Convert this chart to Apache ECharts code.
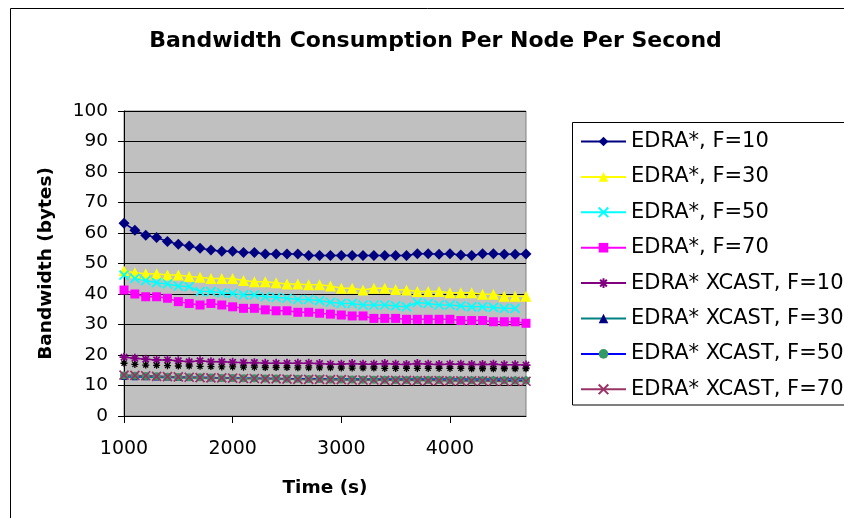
<!DOCTYPE html>
<html>
<head>
<meta charset="utf-8">
<script src="https://cdn.jsdelivr.net/npm/echarts@6/dist/echarts.min.js"></script>
<style>
  html, body { margin: 0; padding: 0; background: #fff; }
  #chart { width: 844px; height: 518px; }
</style>
</head>
<body>
<div id="chart"></div>
<script>
var times = [1000,1100,1200,1300,1400,1500,1600,1700,1800,1900,
             2000,2100,2200,2300,2400,2500,2600,2700,2800,2900,
             3000,3100,3200,3300,3400,3500,3600,3700,3800,3900,
             4000,4100,4200,4300,4400,4500,4600,4700];
var xTickLabels = [1000, 2000, 3000, 4000];
var yTicks = [0,10,20,30,40,50,60,70,80,90,100];

var edraF10 = [63.2,60.9,59.3,58.5,57.2,56.3,55.7,55.0,54.4,54.0,
               54.0,53.6,53.6,53.1,53.1,53.1,53.1,52.6,52.6,52.6,
               52.6,52.6,52.6,52.6,52.6,52.6,52.6,53.2,53.2,53.0,
               53.2,52.8,52.6,53.2,53.2,53.0,53.0,53.1];
var edraF30 = [47.6,47.0,46.6,46.6,46.2,46.2,45.7,45.5,45.1,45.1,
               45.1,44.4,44.0,44.0,43.7,43.3,43.3,43.0,43.0,42.6,
               41.9,41.9,41.3,41.9,41.9,41.5,41.3,40.8,40.8,40.8,
               40.4,40.4,40.4,39.9,39.9,39.3,39.3,39.3];
var edraF50 = [46.2,45.1,44.4,43.7,43.3,42.6,42.4,40.8,40.8,40.4,
               40.2,39.7,39.7,39.1,38.9,38.6,38.2,38.2,37.8,37.3,
               36.9,36.9,36.4,36.4,36.4,36.1,35.8,37.2,36.9,36.4,
               36.4,36.1,35.8,35.8,35.6,35.3,35.3,null];
var edraF70 = [41.3,40.0,39.1,39.1,38.6,37.5,36.9,36.4,36.9,36.4,
               35.8,35.3,35.3,34.8,34.5,34.5,34.0,34.0,33.7,33.4,
               33.1,32.8,32.8,32.0,32.0,32.0,31.7,31.7,31.7,31.7,
               31.7,31.3,31.3,31.3,30.9,30.9,30.9,30.4];
var xcastF10 = [19.3,18.9,18.6,18.4,18.4,18.1,17.8,18.1,17.8,17.8,
                17.6,17.5,17.5,17.3,17.3,17.3,17.3,17.3,17.2,17.0,
                17.0,17.2,17.0,17.0,17.2,17.0,16.9,17.2,17.0,16.9,
                17.0,17.0,16.9,16.9,17.0,16.8,16.8,16.7];
var xcastF30 = [12.8,12.7,12.7,12.6,12.6,12.5,12.5,12.5,12.4,12.4,
                12.4,12.3,12.3,12.3,12.3,12.2,12.2,12.2,12.2,12.2,
                12.2,12.2,12.2,12.2,12.3,12.3,12.3,12.3,12.3,12.3,
                12.3,12.2,12.2,12.2,12.2,12.2,12.2,12.2];
var xcastF50 = [13.3,13.2,13.1,13.0,12.9,12.8,12.7,12.7,12.6,12.5,
                12.5,12.4,12.4,12.3,12.3,12.2,12.2,12.1,12.1,12.0,
                12.0,12.0,11.9,11.9,11.9,11.8,11.8,11.8,11.8,11.8,
                11.7,11.7,11.7,11.7,11.7,11.7,11.6,11.6];
var xcastF70 = [13.4,13.3,13.2,13.0,12.9,12.8,12.7,12.6,12.5,12.5,
                12.4,12.3,12.3,12.2,12.2,12.1,12.0,12.0,12.0,11.9,
                11.9,11.8,11.8,11.8,11.7,11.7,11.7,11.6,11.6,11.6,
                11.5,11.5,11.5,11.5,11.4,11.4,11.4,11.4];
// unlabeled dark marks visible just below the XCAST F=10 series
var darkMarks = [17.3,16.9,16.7,16.6,16.5,16.4,16.4,16.3,16.2,16.1,
                 16.1,16.0,16.0,15.9,15.9,15.9,15.8,15.8,15.8,15.8,
                 15.7,15.7,15.7,15.7,15.6,15.6,15.6,15.6,15.6,15.6,
                 15.6,15.6,15.5,15.5,15.5,15.5,15.5,15.5];

var seriesNames = ['EDRA*, F=10','EDRA*, F=30','EDRA*, F=50','EDRA*, F=70',
                   'EDRA* XCAST, F=10','EDRA* XCAST, F=30','EDRA* XCAST, F=50','EDRA* XCAST, F=70'];

var FONT = 'DejaVu Sans';
var X_PATH = 'path://M0,0 L10,10 M10,0 L0,10';
var STAR_PATH = 'path://M0,5 L10,5 M5,0 L5,10 M1.5,1.5 L8.5,8.5 M8.5,1.5 L1.5,8.5';

function mk(name, data, lineColor, symbol, size, markColor, stroke) {
  var s = {
    name: name, type: 'line', data: data,
    symbol: symbol, symbolSize: size,
    showSymbol: true, showAllSymbol: true,
    lineStyle: { color: lineColor, width: 1.5 },
    itemStyle: { color: markColor },
    emphasis: { disabled: true },
    connectNulls: false
  };
  if (stroke) {
    s.itemStyle = { color: markColor, borderColor: markColor, borderWidth: 1.7 };
  }
  return s;
}

var series = [
  mk(seriesNames[0], edraF10, '#000080', 'diamond', 11, '#000080'),
  mk(seriesNames[1], edraF30, '#FFFF00', 'triangle', 11, '#FFFF00'),
  mk(seriesNames[2], edraF50, '#00FFFF', X_PATH, 9, '#00FFFF', true),
  mk(seriesNames[3], edraF70, '#FF00FF', 'rect', 9, '#FF00FF'),
  mk(seriesNames[4], xcastF10, '#800080', STAR_PATH, 9, '#800080', true),
  {
    name: 'marks', type: 'line', data: darkMarks,
    symbol: STAR_PATH, symbolSize: 7,
    showSymbol: true, showAllSymbol: true,
    lineStyle: { width: 0, opacity: 0 },
    itemStyle: { color: '#000000', borderColor: '#000000', borderWidth: 1.3 },
    emphasis: { disabled: true }
  },
  mk(seriesNames[5], xcastF30, '#008080', 'triangle', 6, '#000080'),
  mk(seriesNames[6], xcastF50, '#0000FF', 'circle', 8, '#339966'),
  mk(seriesNames[7], xcastF70, '#993366', X_PATH, 9, '#993366', true)
];

var chart = echarts.init(document.getElementById('chart'), null, { renderer: 'canvas' });
chart.setOption({
  animation: false,
  backgroundColor: '#ffffff',
  textStyle: { fontFamily: FONT, color: '#000' },
  graphic: [
    { type: 'rect', z: -10, shape: { x: 10.5, y: 8.5, width: 1000, height: 1000 },
      style: { fill: '#ffffff', stroke: '#000000', lineWidth: 1 } },
    { type: 'rect', z: -5, shape: { x: 572.5, y: 122.5, width: 400, height: 282.5 },
      style: { fill: '#ffffff', stroke: '#000000', lineWidth: 1 } },
    { type: 'text', x: 435.5, y: 41,
      style: { text: 'Bandwidth Consumption Per Node Per Second', fill: '#000',
               font: 'bold 22px "DejaVu Sans"', textAlign: 'center', textVerticalAlign: 'middle' } }
  ],
  legend: {
    data: seriesNames,
    orient: 'vertical',
    left: 580, top: 131,
    padding: 0,
    itemWidth: 45, itemHeight: 12,
    itemGap: 14.4,
    textStyle: { fontFamily: FONT, fontSize: 21, lineHeight: 21, color: '#000' },
    selectedMode: false
  },
  grid: {
    left: 124, top: 111, width: 402, height: 305,
    show: true, backgroundColor: '#C0C0C0', borderColor: '#808080', borderWidth: 1
  },
  xAxis: {
    type: 'category', data: times, boundaryGap: false,
    axisLine: { show: true, lineStyle: { color: '#000', width: 1 } },
    axisTick: { show: true, length: 7, lineStyle: { color: '#000' },
                interval: function (i, v) { return xTickLabels.indexOf(Number(v)) >= 0; } },
    axisLabel: { fontFamily: FONT, fontSize: 19, color: '#000', margin: 24,
                 interval: function (i, v) { return xTickLabels.indexOf(Number(v)) >= 0; } },
    splitLine: { show: false },
    name: 'Time (s)', nameLocation: 'middle', nameGap: 63,
    nameTextStyle: { fontFamily: FONT, fontWeight: 'bold', fontSize: 18.5, color: '#000' }
  },
  yAxis: {
    type: 'value', min: yTicks[0], max: yTicks[yTicks.length - 1], interval: 10,
    axisLine: { show: true, lineStyle: { color: '#000', width: 1 } },
    axisTick: { show: true, length: 6, lineStyle: { color: '#000' } },
    axisLabel: { fontFamily: FONT, fontSize: 18.5, color: '#000', margin: 16 },
    splitLine: { show: true, lineStyle: { color: '#000', width: 1 } },
    name: 'Bandwidth (bytes)', nameLocation: 'middle', nameGap: 68,
    nameTextStyle: { fontFamily: FONT, fontWeight: 'bold', fontSize: 18.5, color: '#000' }
  },
  series: series
});
</script>
</body>
</html>
